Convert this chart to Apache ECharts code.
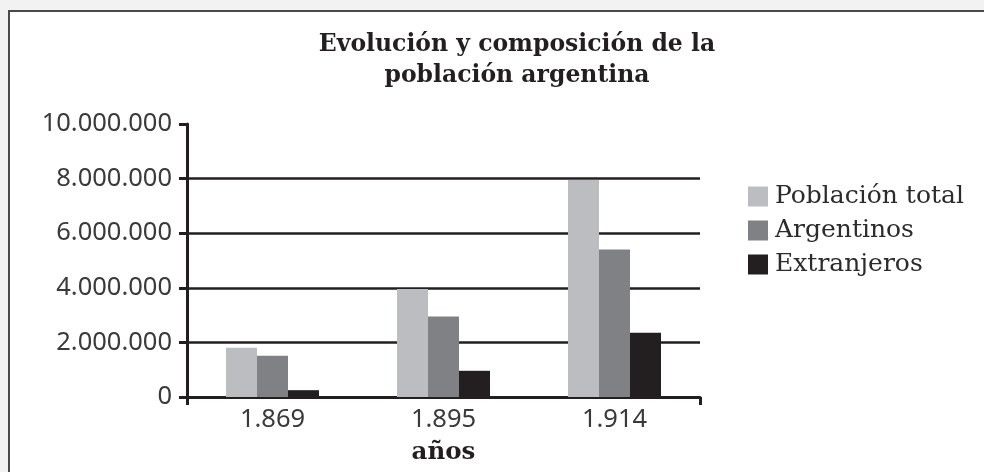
<!DOCTYPE html>
<html>
<head>
<meta charset="utf-8">
<script src="https://cdn.jsdelivr.net/npm/echarts@6/dist/echarts.min.js"></script>
<style>
  html, body { margin: 0; padding: 0; background: #f2f2f3; }
  #panel {
    position: absolute; left: 8px; top: 10px; right: 0; bottom: 0;
    background: #fff; border-top: 2px solid #4a4a4a; border-left: 2px solid #4a4a4a;
  }
  #chart { position: absolute; left: 0; top: 0; width: 984px; height: 472px; }
</style>
</head>
<body>
<div id="panel"></div>
<div id="chart"></div>
<script>
// años del censo
const years = ['1.869', '1.895', '1.914']
// valores
const total = [1800000, 3960000, 7950000]
const argentinos = [1510000, 2950000, 5400000]
const extranjeros = [250000, 960000, 2350000]
const yTicks = [0, 2000000, 4000000, 6000000, 8000000, 10000000]

const ink = '#231f20'
const fmt = v => String(v).replace(/\B(?=(\d{3})+(?!\d))/g, '.')

const chart = echarts.init(document.getElementById('chart'))
chart.setOption({
  backgroundColor: 'transparent',
  animation: false,
  title: {
    text: 'Evolución y composición de la\npoblación argentina',
    left: 512,
    top: 24,
    textAlign: 'center',
    textStyle: {
      fontFamily: 'DejaVu Serif',
      fontWeight: 'bold',
      fontSize: 23.5,
      lineHeight: 31,
      color: ink
    }
  },
  legend: {
    orient: 'vertical',
    left: 743,
    top: 179,
    itemWidth: 20,
    itemHeight: 20,
    itemGap: 9,
    icon: 'rect',
    data: ['Población total', 'Argentinos', 'Extranjeros'],
    textStyle: {
      fontFamily: 'DejaVu Serif',
      fontSize: 25,
      color: '#2b2b2b',
      padding: [0, 0, 0, 2]
    }
  },
  grid: {
    left: 187,
    right: 284,
    top: 124,
    bottom: 75,
    containLabel: false
  },
  xAxis: {
    type: 'category',
    data: years,
    name: 'años',
    nameLocation: 'middle',
    nameGap: 43,
    nameTextStyle: {
      fontFamily: 'DejaVu Serif',
      fontWeight: 'bold',
      fontSize: 24.5,
      color: ink
    },
    axisLine: { lineStyle: { color: ink, width: 3 } },
    axisTick: {
      show: true,
      interval: i => i === 0,
      length: 8,
      lineStyle: { color: ink, width: 3 }
    },
    axisLabel: {
      margin: 10,
      fontFamily: 'Noto Sans',
      fontSize: 25.5,
      color: '#3a3a3a'
    },
    splitLine: { show: false }
  },
  yAxis: {
    type: 'value',
    min: 0,
    max: 10000000,
    interval: 2000000,
    axisLine: { show: true, lineStyle: { color: ink, width: 3 } },
    axisTick: { show: true, length: 8, lineStyle: { color: ink, width: 3 } },
    axisLabel: {
      margin: 15,
      fontFamily: 'Noto Sans',
      fontSize: 25.5,
      color: '#3a3a3a',
      formatter: v => yTicks.includes(v) ? fmt(v) : ''
    },
    splitLine: {
      show: true,
      showMinLine: false,
      showMaxLine: false,
      lineStyle: { color: ink, width: 2.5 }
    }
  },
  series: [
    {
      name: 'Población total',
      type: 'bar',
      data: total,
      barWidth: 31,
      barGap: '0%',
      itemStyle: { color: '#bcbdc0' }
    },
    {
      name: 'Argentinos',
      type: 'bar',
      data: argentinos,
      barWidth: 31,
      barGap: '0%',
      itemStyle: { color: '#808184' }
    },
    {
      name: 'Extranjeros',
      type: 'bar',
      data: extranjeros,
      barWidth: 31,
      barGap: '0%',
      itemStyle: { color: ink }
    }
  ]
})
</script>
</body>
</html>
